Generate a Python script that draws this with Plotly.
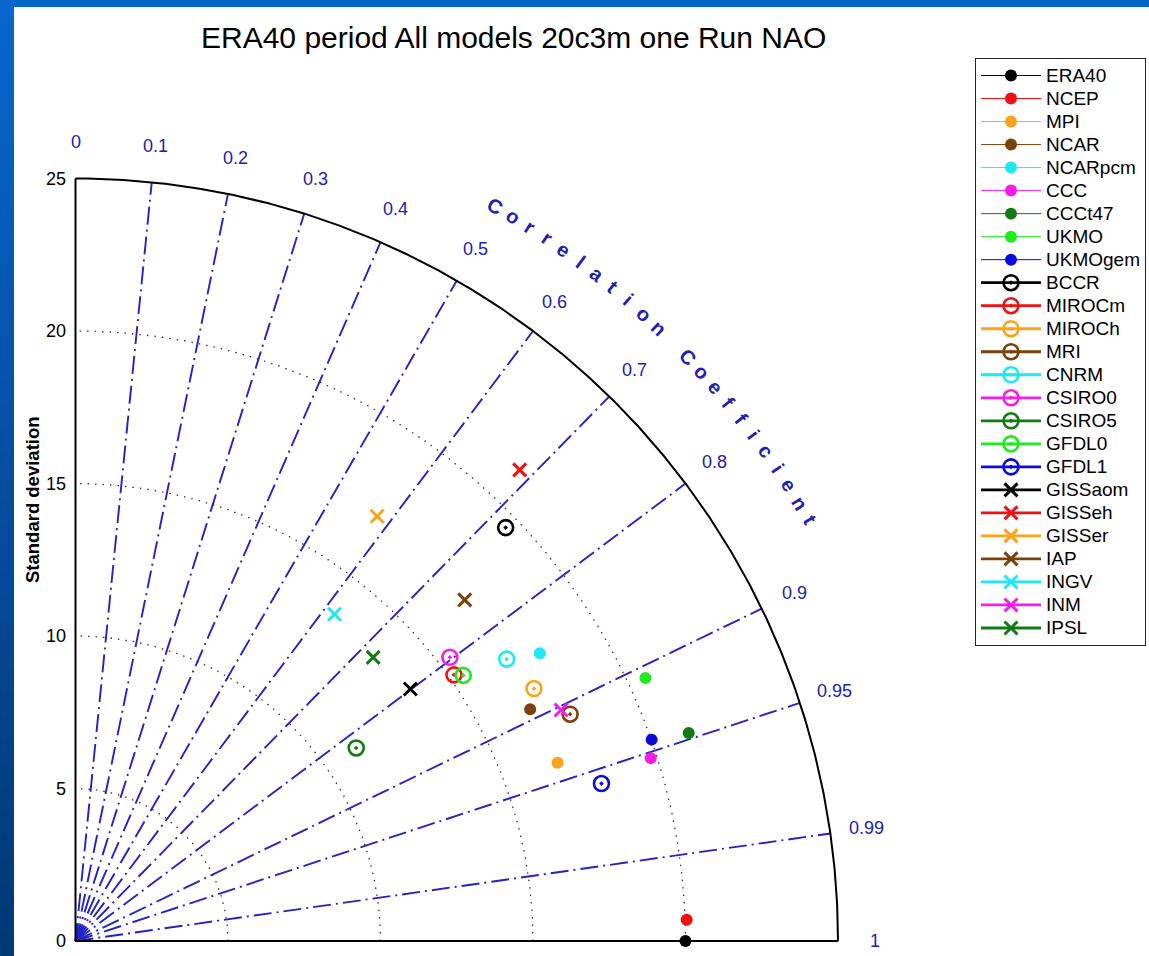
import numpy as np
import plotly.graph_objects as go

# ---------------------------------------------------------------------------
# Taylor diagram data: standard deviation and correlation with ERA40 (NAO)
# ---------------------------------------------------------------------------
model_names = ["ERA40", "NCEP", "MPI", "NCAR", "NCARpcm", "CCC", "CCCt47", "UKMO", "UKMOgem",
               "BCCR", "MIROCm", "MIROCh", "MRI", "CNRM", "CSIRO0", "CSIRO5", "GFDL0", "GFDL1",
               "GISSaom", "GISSeh", "GISSer", "IAP", "INGV", "INM", "IPSL"]

std_dev = [20.00, 20.05, 16.85, 16.73, 17.91, 19.79, 21.23, 20.58, 20.01,
           19.56, 15.17, 17.16, 17.84, 16.89, 15.40, 11.17, 15.41, 18.00,
           13.74, 21.23, 17.08, 16.97, 13.67, 17.63, 13.48]

correlation = [1.000, 0.9994, 0.938, 0.891, 0.850, 0.953, 0.947, 0.908, 0.944,
               0.721, 0.818, 0.876, 0.909, 0.837, 0.797, 0.824, 0.825, 0.958,
               0.799, 0.686, 0.579, 0.752, 0.621, 0.903, 0.724]

marker_kind = ["filled"] * 9 + ["ring"] * 9 + ["cross"] * 7

palette = {
    "black": "#000000", "red": "#F01010", "orange": "#FBA31B", "brown": "#7A420C",
    "cyan": "#1EE8F2", "magenta": "#F51EE8", "dkgreen": "#127A12", "lime": "#1EEB1E",
    "blue": "#0A0ADC",
}
model_colors = ["black", "red", "orange", "brown", "cyan", "magenta", "dkgreen", "lime", "blue",
                "black", "red", "orange", "brown", "cyan", "magenta", "dkgreen", "lime", "blue",
                "black", "red", "orange", "brown", "cyan", "magenta", "dkgreen"]

std_ticks = [0, 5, 10, 15, 20, 25]
std_arcs = [5, 10, 15, 20]
std_max = 25
corr_ticks = [0, 0.1, 0.2, 0.3, 0.4, 0.5, 0.6, 0.7, 0.8, 0.9, 0.95, 0.99, 1]
corr_lines = [0.1, 0.2, 0.3, 0.4, 0.5, 0.6, 0.7, 0.8, 0.9, 0.95, 0.99]

title_text = "ERA40 period All models 20c3m one Run NAO"
ylabel_text = "Standard deviation"
corr_label_text = "Correlation Coefficient"

# ---------------------------------------------------------------------------
# Page geometry (pixels) -> axis ranges with equal scaling in x and y
# ---------------------------------------------------------------------------
W, H = 1149, 956
ML, MR, MT, MB = 45, 189, 50, 0
ORIGIN_PX = (75.5, 941.0)
PX_PER_UNIT = 30.5
x_range = [(ML - ORIGIN_PX[0]) / PX_PER_UNIT, (W - MR - ORIGIN_PX[0]) / PX_PER_UNIT]
y_range = [(ORIGIN_PX[1] - (H - MB)) / PX_PER_UNIT, (ORIGIN_PX[1] - MT) / PX_PER_UNIT]
plot_w, plot_h = W - ML - MR, H - MT - MB


def paper_x(px):
    return (px - ML) / plot_w


def paper_y(py):
    return (H - MB - py) / plot_h


BLUE_GRID = "#2222C8"
TEXT_BLUE = "#2020B4"
FONT = "Liberation Sans, Arial, Helvetica, sans-serif"

fig = go.Figure()

# correlation rays (dash-dot)
for c in corr_lines:
    th = np.arccos(c)
    r = np.array([0.0, std_max])
    fig.add_trace(go.Scatter(x=r * np.cos(th), y=r * np.sin(th), mode="lines",
                             line=dict(color=BLUE_GRID, width=1.9, dash="18px,5px,2px,5px"),
                             hoverinfo="skip", showlegend=False))

# standard deviation arcs (dotted)
theta = np.linspace(0, np.pi / 2, 400)
for s in std_arcs:
    fig.add_trace(go.Scatter(x=s * np.cos(theta), y=s * np.sin(theta), mode="lines",
                             line=dict(color="#333333", width=1.3, dash="1.5px,6px"),
                             hoverinfo="skip", showlegend=False))

# outer boundary and the two axes
fig.add_trace(go.Scatter(x=std_max * np.cos(theta), y=std_max * np.sin(theta), mode="lines",
                         line=dict(color="black", width=2), hoverinfo="skip", showlegend=False))
fig.add_trace(go.Scatter(x=[0, std_max], y=[0, 0], mode="lines",
                         line=dict(color="black", width=2), hoverinfo="skip", showlegend=False))
fig.add_trace(go.Scatter(x=[0, 0], y=[0, std_max], mode="lines",
                         line=dict(color="black", width=2), hoverinfo="skip", showlegend=False))

# model points
for name, s, c, kind, col in zip(model_names, std_dev, correlation, marker_kind, model_colors):
    th = np.arccos(min(c, 1.0))
    color = palette[col]
    if kind == "filled":
        marker = dict(symbol="circle", size=12, color=color, line=dict(width=0))
        lw = 1
    elif kind == "ring":
        marker = dict(symbol="circle-open-dot", size=15, color=color,
                      line=dict(width=2.6, color=color))
        lw = 2.8
    else:
        marker = dict(symbol="x-thin-open", size=13, color=color,
                      line=dict(width=3, color=color))
        lw = 2.8
    fig.add_trace(go.Scatter(
        x=[s * np.cos(th)], y=[s * np.sin(th)], mode="lines+markers",
        name=f'<span style="font-size:19px">{name}</span>',
        marker=marker, line=dict(color=color, width=lw),
        hovertemplate=f"{name}<br>std=%{{customdata[0]:.2f}}<br>corr=%{{customdata[1]:.3f}}<extra></extra>",
        customdata=[[s, c]],
    ))

annotations = []

# standard deviation tick labels on the vertical axis
for v in std_ticks:
    annotations.append(dict(x=-0.25, y=v, xref="x", yref="y", text=str(v), showarrow=False,
                            xanchor="right", yanchor="middle",
                            font=dict(family=FONT, size=18, color="black")))

# correlation tick labels around the arc
r_lab = 26.2
for c in corr_ticks:
    th = np.arccos(c)
    annotations.append(dict(x=r_lab * np.cos(th), y=r_lab * np.sin(th), xref="x", yref="y",
                            text=f"{c:g}", showarrow=False, xanchor="center", yanchor="middle",
                            font=dict(family=FONT, size=18, color=TEXT_BLUE)))

# curved "Correlation Coefficient" caption, one letter at a time
r_cap = 27.75
a_start, a_end = 60.3, 29.8
n_chars = len(corr_label_text)
for i, ch in enumerate(corr_label_text):
    if ch == " ":
        continue
    ang = a_start + (a_end - a_start) * i / (n_chars - 1)
    rad = np.deg2rad(ang)
    annotations.append(dict(x=r_cap * np.cos(rad), y=r_cap * np.sin(rad), xref="x", yref="y",
                            text=f"<b>{ch}</b>", showarrow=False, textangle=90 - ang,
                            xanchor="center", yanchor="middle",
                            font=dict(family=FONT, size=20, color=TEXT_BLUE)))

# vertical axis title
annotations.append(dict(x=paper_x(32), y=paper_y(500), xref="paper", yref="paper",
                        text=f"<b>{ylabel_text}</b>", showarrow=False, textangle=-90,
                        xanchor="center", yanchor="middle",
                        font=dict(family=FONT, size=18.5, color="black")))

# slide frame: blue band on top and a shaded band on the left
shapes = [dict(type="rect", xref="paper", yref="paper",
               x0=paper_x(0), x1=paper_x(W), y0=paper_y(7), y1=paper_y(-2),
               fillcolor="#0066CC", line=dict(width=0), layer="below")]
n_bands = 40
top_rgb = np.array([8, 102, 204])
bot_rgb = np.array([0, 56, 118])
for k in range(n_bands):
    f = k / (n_bands - 1)
    rgb = (top_rgb * (1 - f) + bot_rgb * f).astype(int)
    y0 = k * H / n_bands
    y1 = (k + 1) * H / n_bands + 1
    shapes.append(dict(type="rect", xref="paper", yref="paper",
                       x0=paper_x(-2), x1=paper_x(14), y0=paper_y(y1), y1=paper_y(y0),
                       fillcolor=f"rgb({rgb[0]},{rgb[1]},{rgb[2]})", line=dict(width=0),
                       layer="below"))

fig.update_layout(
    width=W, height=H,
    margin=dict(l=ML, r=MR, t=MT, b=MB, pad=0),
    paper_bgcolor="white", plot_bgcolor="white",
    xaxis=dict(range=x_range, visible=False, fixedrange=True),
    yaxis=dict(range=y_range, visible=False, fixedrange=True),
    title=dict(text=title_text, xref="container", yref="container",
               x=201 / W, xanchor="left", y=1 - 37 / H, yanchor="middle",
               font=dict(family=FONT, size=30, color="black")),
    legend=dict(x=paper_x(975), xanchor="left", y=paper_y(58), yanchor="top",
                bgcolor="white", bordercolor="#222222", borderwidth=1,
                font=dict(family=FONT, size=15.4, color="black"),
                itemwidth=60, tracegroupgap=0),
    annotations=annotations,
    shapes=shapes,
    showlegend=True,
)

fig.write_html("out.html")
